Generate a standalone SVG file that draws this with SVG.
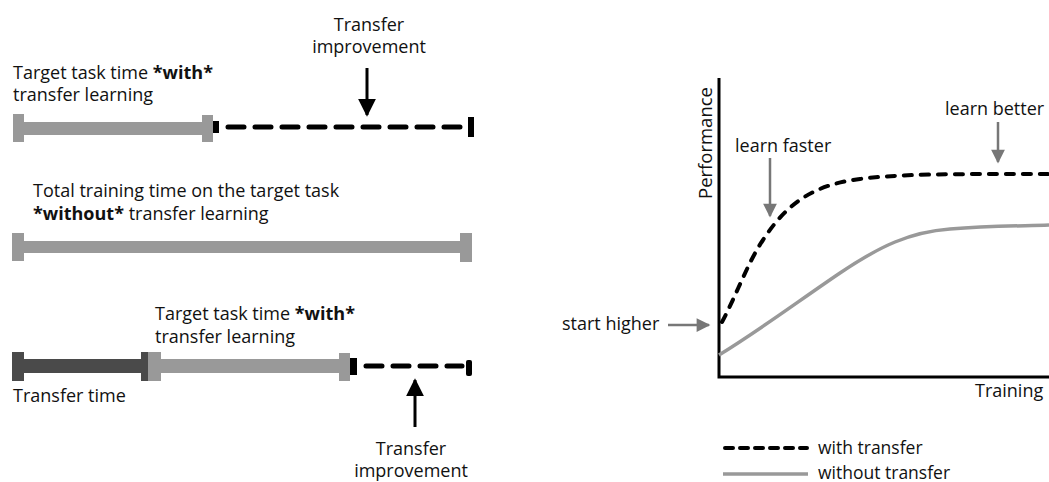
<svg xmlns="http://www.w3.org/2000/svg" width="1049" height="482" viewBox="0 0 1049 482">
  <defs>
    <style>
      text { font-family: "Open Sans", "Liberation Sans", sans-serif; font-size: 18px; fill: #111; }
      .b { font-weight: bold; }
      .mid { text-anchor: middle; }
      .light { fill: #999999; }
      .dark { fill: #4a4a4a; }
      .ink { fill: #000; }
      .dash { stroke: #000; stroke-width: 5; stroke-linecap: round; stroke-dasharray: 16 11; fill: none; }
      .curve-dash { stroke: #000; stroke-width: 4; stroke-linecap: round; stroke-dasharray: 8 9; fill: none; }
      .legend-dash { stroke: #000; stroke-width: 4; stroke-linecap: round; stroke-dasharray: 8 7; fill: none; }
      .curve-solid { stroke: #999999; stroke-width: 3.5; fill: none; }
      .axis { stroke: #000; stroke-width: 3; fill: none; }
      .pointer { stroke: #000; stroke-width: 3; }
      .hint { stroke: #777; stroke-width: 2.5; }
    </style>
    <marker id="headBlack" viewBox="0 0 10 10" refX="9" refY="5" markerWidth="6" markerHeight="6" markerUnits="strokeWidth" orient="auto">
      <path d="M0,0 L10,5 L0,10 Z" fill="#000"/>
    </marker>
    <marker id="headGray" viewBox="0 0 10 10" refX="9" refY="5" markerWidth="6.5" markerHeight="5.5" markerUnits="strokeWidth" orient="auto">
      <path d="M0,0 L10,5 L0,10 Z" fill="#777"/>
    </marker>
  </defs>

  <!-- Row 1: target task with transfer learning -->
  <g id="row-with-top">
    <text x="13" y="79">Target task time <tspan class="b">*with*</tspan></text>
    <text x="13" y="101">transfer learning</text>
    <rect class="light" x="13" y="114" width="11" height="28"/>
    <rect class="light" x="24" y="122" width="180" height="13"/>
    <rect class="light" x="202" y="115" width="11" height="27"/>
    <rect class="ink" x="213" y="121" width="6" height="12"/>
    <rect class="ink" x="468" y="117" width="6" height="20"/>
  </g>
  <g id="improvement-top">
    <text class="mid" x="369" y="31">Transfer</text>
    <text class="mid" x="369" y="53">improvement</text>
  </g>

  <!-- Row 2: total time without transfer learning -->
  <g id="row-without">
    <text x="33" y="197">Total training time on the target task</text>
    <text x="33" y="220"><tspan class="b">*without*</tspan> transfer learning</text>
    <rect class="light" x="12" y="233" width="12" height="28"/>
    <rect class="light" x="24" y="241" width="437" height="12"/>
    <rect class="light" x="460" y="233" width="12" height="29"/>
  </g>

  <!-- Row 3: transfer time followed by target task time -->
  <g id="row-transfer">
    <rect class="dark" x="12" y="352" width="12" height="29"/>
    <rect class="dark" x="24" y="359" width="118" height="14"/>
    <rect class="dark" x="141" y="352" width="8" height="29"/>
    <text x="13" y="402">Transfer time</text>
  </g>
  <g id="row-with-bottom">
    <text x="155" y="320">Target task time <tspan class="b">*with*</tspan></text>
    <text x="155" y="343">transfer learning</text>
    <rect class="light" x="148" y="352" width="13" height="29"/>
    <rect class="light" x="161" y="359" width="180" height="14"/>
    <rect class="light" x="339" y="353" width="11" height="28"/>
    <rect class="ink" x="350" y="358" width="7" height="17"/>
    <rect class="ink" x="466" y="360" width="6" height="16" rx="2"/>
  </g>
  <g id="improvement-bottom">
    <text class="mid" x="411" y="455">Transfer</text>
    <text class="mid" x="411" y="477">improvement</text>
  </g>

  <!-- Chart -->
  <g id="chart-axes">
    <path class="axis" d="M719,78 V377 H1049"/>
    <text class="mid" transform="translate(712,143) rotate(-90)" style="font-size:18.5px">Performance</text>
    <text x="975" y="397">Training</text>
  </g>
  <g id="curve-with">
    <path class="curve-dash" d="M722,322 C736,296 748,262 763,240 C790,198 820,184 860,179 C900,174 940,174 1049,174"/>
  </g>
  <g id="curve-without">
    <path class="curve-solid" d="M719,355 C760,330 800,300 840,273 C880,246 910,232 950,229 C990,226 1020,226 1049,225"/>
  </g>
  <g id="label-faster">
    <text x="735" y="152">learn faster</text>
  </g>
  <g id="label-better">
    <text x="945" y="115">learn better</text>
  </g>
  <g id="label-higher">
    <text x="562" y="330">start higher</text>
  </g>
  <g id="legend">
    <line class="legend-dash" x1="725" y1="448" x2="807" y2="448"/>
    <text x="818" y="454" style="font-size:17.5px">with transfer</text>
    <line class="curve-solid" x1="723" y1="474" x2="808" y2="474"/>
    <text x="818" y="479" style="font-size:17.5px">without transfer</text>
  </g>

  <!-- Connectors -->
  <g id="connectors">
    <line class="dash" x1="228" y1="127" x2="462" y2="127"/>
    <line class="dash" x1="366" y1="366" x2="462" y2="366"/>
    <line class="pointer" x1="367" y1="68" x2="367" y2="115" marker-end="url(#headBlack)"/>
    <line class="pointer" x1="415" y1="427" x2="415" y2="380" marker-end="url(#headBlack)"/>
    <line class="hint" x1="770" y1="158" x2="770" y2="216" marker-end="url(#headGray)"/>
    <line class="hint" x1="998" y1="122" x2="998" y2="162" marker-end="url(#headGray)"/>
    <line class="hint" x1="668" y1="325" x2="709" y2="325" marker-end="url(#headGray)"/>
  </g>
</svg>
